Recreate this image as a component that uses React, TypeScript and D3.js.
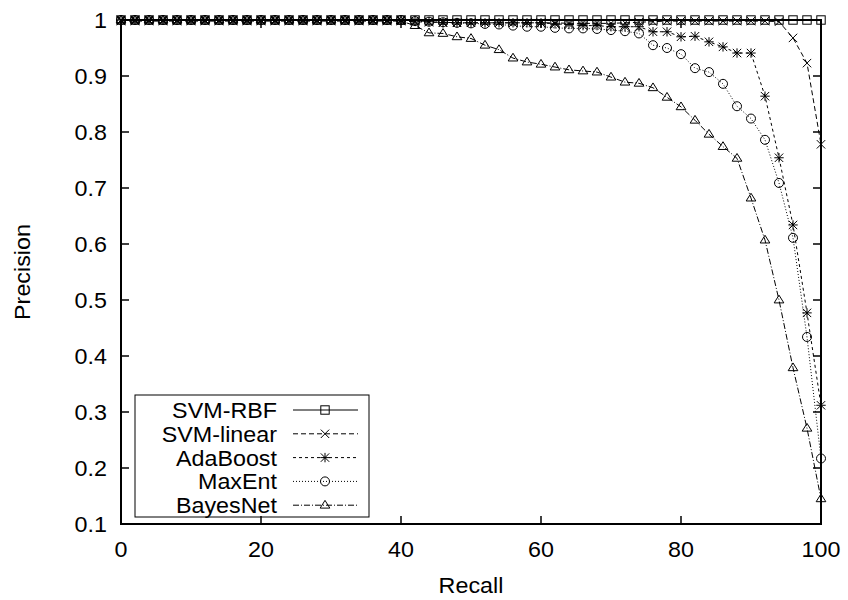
import React from "react";
import * as d3 from "d3";

const recall = [0, 2, 4, 6, 8, 10, 12, 14, 16, 18, 20, 22, 24, 26, 28, 30, 32, 34, 36, 38, 40, 42, 44, 46, 48, 50, 52, 54, 56, 58, 60, 62, 64, 66, 68, 70, 72, 74, 76, 78, 80, 82, 84, 86, 88, 90, 92, 94, 96, 98, 100];

const svmRbf = [1, 1, 1, 1, 1, 1, 1, 1, 1, 1, 1, 1, 1, 1, 1, 1, 1, 1, 1, 1, 1, 1, 1, 1, 1, 1, 1, 1, 1, 1, 1, 1, 1, 1, 1, 1, 1, 1, 1, 1, 1, 1, 1, 1, 1, 1, 1, 1, 1, 1, 1];
const svmLinear = [0.998, 0.998, 0.998, 0.998, 0.998, 0.998, 0.998, 0.998, 0.998, 0.998, 0.998, 0.998, 0.998, 0.998, 0.998, 0.998, 0.998, 0.998, 0.998, 0.998, 0.998, 0.997, 0.996, 0.996, 0.995, 0.995, 0.995, 0.995, 0.995, 0.995, 0.995, 0.995, 0.994, 0.994, 0.994, 0.994, 0.995, 0.996, 0.997, 0.998, 0.998, 0.998, 0.998, 0.998, 0.998, 0.998, 0.998, 0.997, 0.968, 0.923, 0.778];
const adaBoost = [1, 1, 1, 1, 1, 1, 1, 1, 1, 1, 1, 1, 1, 1, 1, 1, 1, 1, 1, 1, 1, 0.999, 0.997, 0.995, 0.995, 0.995, 0.995, 0.995, 0.995, 0.995, 0.995, 0.993, 0.992, 0.99, 0.99, 0.988, 0.988, 0.988, 0.979, 0.979, 0.97, 0.971, 0.961, 0.952, 0.941, 0.941, 0.864, 0.754, 0.634, 0.477, 0.312];
const maxEnt = [1, 1, 1, 1, 1, 1, 1, 1, 1, 1, 1, 1, 1, 1, 1, 1, 1, 1, 1, 1, 1, 0.998, 0.997, 0.996, 0.995, 0.994, 0.993, 0.992, 0.99, 0.988, 0.988, 0.986, 0.985, 0.985, 0.984, 0.982, 0.98, 0.976, 0.955, 0.95, 0.939, 0.914, 0.907, 0.886, 0.846, 0.824, 0.786, 0.709, 0.611, 0.434, 0.217];
const bayesNet = [1, 1, 1, 1, 1, 1, 1, 1, 1, 1, 1, 1, 1, 1, 1, 1, 1, 1, 1, 1, 0.998, 0.99, 0.977, 0.976, 0.97, 0.967, 0.955, 0.947, 0.932, 0.925, 0.921, 0.916, 0.911, 0.909, 0.907, 0.898, 0.889, 0.887, 0.879, 0.862, 0.845, 0.821, 0.796, 0.774, 0.753, 0.682, 0.607, 0.5, 0.379, 0.271, 0.145];

const seriesNames = ["SVM-RBF", "SVM-linear", "AdaBoost", "MaxEnt", "BayesNet"];
const seriesValues = [svmRbf, svmLinear, adaBoost, maxEnt, bayesNet];
const seriesDash = ["", "5,3", "3,3", "1,2", "6,2,1,2"];
const seriesMarker = ["square", "cross", "star", "circle", "triangle"];

const xTicks = [0, 20, 40, 60, 80, 100];
const yTicks = [0.1, 0.2, 0.3, 0.4, 0.5, 0.6, 0.7, 0.8, 0.9, 1];

const W = 848;
const H = 600;
const left = 121;
const right = 821;
const top = 20;
const bottom = 524;
const FONT = "'Liberation Sans', Arial, Helvetica, sans-serif";
const FS = 22;
const SX = 1.06;

function Label({ x, y, anchor, children, rotate }: { x: number; y: number; anchor: string; children: string; rotate?: boolean }) {
  return (
    <g transform={`translate(${x},${y})${rotate ? " rotate(-90)" : ""} scale(${SX},1)`}>
      <text x={0} y={0} dy="0.36em" textAnchor={anchor} fontSize={FS}>
        {children}
      </text>
    </g>
  );
}

function Marker({ type, x, y }: { type: string; x: number; y: number }) {
  const s = 4.2;
  const common = { fill: "none", stroke: "#000", strokeWidth: 1 };
  if (type === "square") return <rect x={x - s} y={y - s} width={2 * s} height={2 * s} {...common} />;
  if (type === "circle") return <circle cx={x} cy={y} r={s + 0.3} {...common} />;
  if (type === "cross")
    return <path d={`M${x - s},${y - s}L${x + s},${y + s}M${x - s},${y + s}L${x + s},${y - s}`} {...common} />;
  if (type === "star")
    return (
      <path
        d={`M${x - s},${y - s}L${x + s},${y + s}M${x - s},${y + s}L${x + s},${y - s}M${x - s - 0.5},${y}L${x + s + 0.5},${y}M${x},${y - s - 0.5}L${x},${y + s + 0.5}`}
        {...common}
      />
    );
  const h = s * 1.15;
  return <path d={`M${x},${y - h}L${x + h},${y + h * 0.6}L${x - h},${y + h * 0.6}Z`} {...common} />;
}

export default function App() {
  const xs = d3.scaleLinear().domain([0, 100]).range([left, right]);
  const ys = d3.scaleLinear().domain([0.1, 1]).range([bottom, top]);
  const line = d3
    .line<number>()
    .x((_, i) => xs(recall[i]))
    .y((d) => ys(d));

  const tickLen = 8;
  const legendX0 = 135;
  const legendY0 = 395;
  const legendW = 234;
  const legendH = 122;
  const rowH = 23.8;

  return (
    <svg width={W} height={H} style={{ position: "absolute", left: 0, top: 0, background: "#fff" }} fontFamily={FONT}>
      <rect x={0} y={0} width={W} height={H} fill="#fff" />
      {yTicks.map((t) => (
        <g key={"y" + t}>
          <line x1={left} x2={left + tickLen} y1={ys(t)} y2={ys(t)} stroke="#000" strokeWidth={1.5} />
          <line x1={right} x2={right - tickLen} y1={ys(t)} y2={ys(t)} stroke="#000" strokeWidth={1.5} />
          <Label x={107} y={ys(t)} anchor="end">{String(t)}</Label>
        </g>
      ))}
      {xTicks.map((t) => (
        <g key={"x" + t}>
          <line x1={xs(t)} x2={xs(t)} y1={bottom} y2={bottom - tickLen} stroke="#000" strokeWidth={1.5} />
          <line x1={xs(t)} x2={xs(t)} y1={top} y2={top + tickLen} stroke="#000" strokeWidth={1.5} />
          <Label x={xs(t)} y={bottom + 25} anchor="middle">{String(t)}</Label>
        </g>
      ))}
      <Label x={xs(50)} y={bottom + 61} anchor="middle">Recall</Label>
      <Label x={22} y={(top + bottom) / 2} anchor="middle" rotate>Precision</Label>

      <rect x={legendX0} y={legendY0} width={legendW} height={legendH} fill="none" stroke="#000" strokeWidth={1} />
      {seriesNames.map((name, i) => {
        const cy = legendY0 + 15 + i * rowH;
        return (
          <g key={name}>
            <Label x={277} y={cy} anchor="end">{name}</Label>
            <line x1={293} x2={358} y1={cy} y2={cy} stroke="#000" strokeWidth={1} strokeDasharray={seriesDash[i]} />
            <Marker type={seriesMarker[i]} x={325} y={cy} />
          </g>
        );
      })}

      {seriesValues.map((vals, i) => (
        <g key={seriesNames[i]}>
          <path d={line(vals) || ""} fill="none" stroke="#000" strokeWidth={1} strokeDasharray={seriesDash[i]} />
          {vals.map((v, j) => (
            <Marker key={j} type={seriesMarker[i]} x={xs(recall[j])} y={ys(v)} />
          ))}
        </g>
      ))}

      <rect x={left} y={top} width={right - left} height={bottom - top} fill="none" stroke="#000" strokeWidth={2} />
    </svg>
  );
}
